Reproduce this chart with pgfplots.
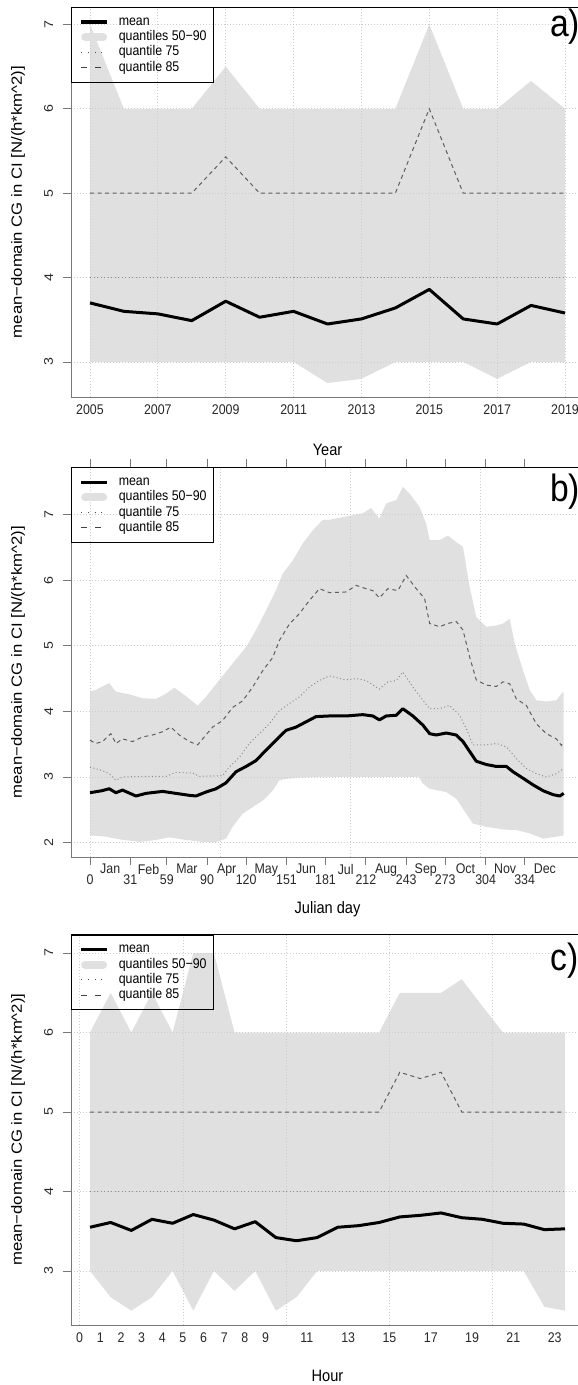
\documentclass[border=0pt]{standalone}
\usepackage{fontspec}
\setmainfont{Liberation Sans}[FakeStretch=0.885]
\newfontfamily\rotfont{Liberation Sans}[FakeStretch=1.13]
\usepackage{pgfplots}
\usepackage{pgfplotstable}
\pgfplotsset{compat=1.18}
\usepgfplotslibrary{fillbetween}

\definecolor{band}{RGB}{224,224,224}
\definecolor{gridc}{RGB}{205,205,205}
\definecolor{axisc}{RGB}{120,120,120}
\definecolor{qdash}{RGB}{95,95,95}
\definecolor{qdot}{RGB}{140,140,140}
\definecolor{txt}{RGB}{40,40,40}

% yearly statistics: year, mean, q50, q90, q75, q85
\pgfplotstableread{
yr   mean  q50  q90  q75 q85
2005 3.70 3.00 7.00 4 5.00
2006 3.60 3.00 6.00 4 5.00
2007 3.57 3.00 6.00 4 5.00
2008 3.49 3.00 6.00 4 5.00
2009 3.72 3.00 6.50 4 5.43
2010 3.53 3.00 6.00 4 5.00
2011 3.60 3.00 6.00 4 5.00
2012 3.45 2.75 6.00 4 5.00
2013 3.51 2.80 6.00 4 5.00
2014 3.64 3.00 6.00 4 5.00
2015 3.86 3.00 7.00 4 6.00
2016 3.51 3.00 6.00 4 5.00
2017 3.45 2.80 6.00 4 5.00
2018 3.67 3.00 6.33 4 5.00
2019 3.58 3.00 6.00 4 5.00
}\tabA

% hourly statistics
\pgfplotstableread{
hr   mean  q50  q90  q75 q85
0.5  3.55 3.00 6.00 4 5.00
1.5  3.61 2.67 6.50 4 5.00
2.5  3.51 2.50 6.00 4 5.00
3.5  3.65 2.67 6.50 4 5.00
4.5  3.60 3.00 6.00 4 5.00
5.5  3.71 2.50 7.00 4 5.00
6.5  3.64 3.00 7.00 4 5.00
7.5  3.53 2.75 6.00 4 5.00
8.5  3.62 3.00 6.00 4 5.00
9.5  3.42 2.50 6.00 4 5.00
10.5 3.38 2.67 6.00 4 5.00
11.5 3.42 3.00 6.00 4 5.00
12.5 3.55 3.00 6.00 4 5.00
13.5 3.57 3.00 6.00 4 5.00
14.5 3.61 3.00 6.00 4 5.00
15.5 3.68 3.00 6.50 4 5.50
16.5 3.70 3.00 6.50 4 5.42
17.5 3.73 3.00 6.50 4 5.50
18.5 3.67 3.00 6.67 4 5.00
19.5 3.65 3.00 6.33 4 5.00
20.5 3.60 3.00 6.00 4 5.00
21.5 3.59 3.00 6.00 4 5.00
22.5 3.52 2.55 6.00 4 5.00
23.5 3.53 2.50 6.00 4 5.00
}\tabC

% day-of-year statistics
\pgfplotstableread{
d v
0 4.30
4.5 4.33
14.8 4.43
19.9 4.30
30 4.26
40.4 4.20
50.7 4.19
58.4 4.27
64.8 4.36
71.2 4.27
77.6 4.17
82.7 4.09
89.1 4.22
99.4 4.48
109.6 4.73
119.9 4.98
127.6 5.24
135.3 5.54
143 5.85
148.1 6.10
155.8 6.30
163.5 6.56
171.2 6.76
178.9 6.92
184 6.92
196.8 6.97
209.6 7.02
216 7.10
222.4 6.94
227.6 7.17
235.3 7.22
240.4 7.42
245.5 7.32
253.2 7.12
258.3 6.86
261 6.61
268.6 6.61
275 6.68
281.4 6.58
286.6 6.51
291.7 5.90
296.8 5.44
304.5 5.29
312.3 5.31
317.4 5.34
322.5 5.41
326.4 5.03
332.8 4.62
338 4.32
343 4.17
350.7 4.15
358.4 4.17
362.3 4.27
364 4.30
}\bNinety

\pgfplotstableread{
d v
0 2.11
12.2 2.09
22.5 2.05
37.9 2.01
50.7 2.04
61 2.08
73.8 2.04
86.6 2.01
96.8 2.01
104.5 2.06
109.6 2.24
117.3 2.44
125 2.54
132.7 2.64
140.4 2.79
145.5 2.95
150.6 2.97
160.9 2.99
184 3.00
253 3.00
255.6 2.90
261 2.82
273.8 2.77
281.4 2.67
289.1 2.44
294.2 2.29
304.5 2.24
317.4 2.20
327.6 2.19
338 2.14
348.2 2.06
358.4 2.09
364 2.11
}\bFifty

\pgfplotstableread{
d v
0 2.76
9 2.79
14.8 2.82
19.9 2.76
25 2.80
35.3 2.71
43 2.75
55.8 2.78
66 2.75
76.3 2.72
81.4 2.71
89.1 2.77
96.8 2.82
104.5 2.91
112.2 3.08
119.9 3.16
127.6 3.25
135.3 3.41
143 3.56
150.6 3.71
158.3 3.76
166 3.84
173.7 3.92
184 3.93
196.8 3.93
209.6 3.95
217.3 3.93
222.4 3.87
227.6 3.93
235.3 3.94
240.4 4.04
248.1 3.93
255.8 3.79
261 3.66
266.1 3.64
273.8 3.67
281.4 3.64
286.6 3.54
291.7 3.39
296.8 3.24
304.5 3.19
312.3 3.16
320 3.16
325 3.08
332.8 2.98
340.4 2.88
348.2 2.79
355.9 2.73
361 2.71
364 2.75
}\bMean

\pgfplotstableread{
d v
0 3.56
4.5 3.51
9.6 3.54
16 3.66
19.9 3.51
25 3.58
32.7 3.54
40.4 3.61
48.1 3.64
55.8 3.69
62.2 3.76
68.6 3.64
76.3 3.54
82.7 3.49
89.1 3.64
94.2 3.76
101.9 3.86
109.6 4.06
117.3 4.16
125 4.37
132.7 4.62
140.4 4.82
145.5 5.08
153.2 5.33
160.9 5.49
168.6 5.69
176.3 5.87
184 5.81
196.8 5.82
204.5 5.92
212.1 5.87
217.3 5.84
222.4 5.73
228.9 5.87
236.6 5.84
243 6.07
250.7 5.87
257.1 5.72
261 5.34
268.6 5.29
275 5.34
281.4 5.37
286.6 5.24
291.7 4.83
296.8 4.48
304.5 4.40
312.3 4.38
317.4 4.45
322.5 4.42
327.6 4.19
335.3 4.09
343 3.81
350.7 3.66
358.4 3.58
362.3 3.48
364 3.54
}\bEightyFive

\pgfplotstableread{
d v
0 3.15
9 3.10
14.8 3.05
19.9 2.95
25 3.00
43 3.01
58.4 3.01
66 3.07
78.9 3.06
84 3.01
101.9 3.02
107 3.15
114.8 3.30
122.4 3.51
130.1 3.66
137.8 3.81
145.5 4.01
153.2 4.12
160.9 4.22
168.6 4.37
176.3 4.47
184 4.54
196.8 4.48
204.5 4.50
212.1 4.47
222.4 4.34
228.9 4.45
235.3 4.47
240.4 4.60
248.1 4.37
255.8 4.17
261 4.04
268.6 4.04
276.3 4.09
284 3.94
289.1 3.74
294.2 3.49
304.5 3.49
312.3 3.51
320 3.46
327.6 3.28
335.3 3.13
343 3.05
350.7 3.00
358.4 3.05
364 3.13
}\bSeventyFive

\tikzset{
  gridline/.style={gridc, line width=0.8pt, dash pattern=on 1pt off 2pt},
}

\pgfplotsset{
  panel/.style={
    scale only axis, width=513pt,
    clip=false,
    axis line style={draw=none},
    tick align=outside,
    major tick length=8pt,
    ytick style={draw=axisc, line width=0.8pt},
    xtick style={draw=none},
    yticklabel style={rotate=90, anchor=south, inner sep=0pt,
      font=\rotfont\fontsize{12.6}{12.6}\selectfont, text=txt},
    yticklabel shift=9.7pt,
    xticklabel style={anchor=north, inner sep=0pt,
      font=\fontsize{14}{14}\selectfont, text=txt},
    /pgf/number format/assume math mode=true,
    /pgf/number format/1000 sep={},
    xlabel style={anchor=center, font=\fontsize{16.5}{16.5}\selectfont, text=black},
    ylabel style={at={(axis description cs:-0.1033,0.5)}, anchor=center,
      font=\rotfont\fontsize{14.8}{14.8}\selectfont, text=black},
    ylabel={mean−domain CG in CI [N/(h*km\textasciicircum 2)]},
    legend style={at={(0,1)}, anchor=north west,
      draw=black, line width=0.9pt, fill=none,
      inner xsep=6.7pt, inner ysep=8pt, row sep=2.2pt,
      font=\fontsize{14}{14}\selectfont,
      nodes={inner xsep=0pt, inner ysep=0pt, text height=10pt, text depth=3pt},
      /tikz/every odd column/.append style={column sep=10pt}},
    legend cell align=left,
    legend image code/.code={\path[draw=none, fill=none] (0pt,0pt) -- (29pt,0pt);
      \draw[##1] (3pt,0pt) -- (29pt,0pt);},
  },
}

\newcommand{\legendentries}{%
  \addlegendimage{black, line width=3.2pt}
  \addlegendimage{legend image code/.code={\path[draw=none, fill=none] (0pt,0pt) -- (29pt,0pt);
      \draw[band, line width=8pt, line cap=round, solid] (7pt,0pt) -- (25pt,0pt);}}
  \addlegendimage{black!70, line width=1pt, dash pattern=on 1.2pt off 5.5pt}
  \addlegendimage{black!75, line width=1pt, dash pattern=on 6pt off 7.5pt}
  \legend{mean, quantiles 50−90, quantile 75, quantile 85}
}

\newcommand{\frameaxis}{%
  \draw[axisc, line width=1pt] (rel axis cs:0,1) -- (rel axis cs:0,0) -- (rel axis cs:1,0);
  \draw[black, line width=1pt] (rel axis cs:0,1) -- (rel axis cs:1,1);
}

\begin{document}
\begin{tikzpicture}

% ---------- a) by year ----------
\begin{axis}[panel, at={(71pt,-397pt)}, anchor=south west, height=390pt,
  xmin=2004.44, xmax=2019.56, ymin=2.585, ymax=7.206,
  xtick={2005,2007,2009,2011,2013,2015,2017,2019}, ytick={3,4,5,6,7},
  xlabel={Year}, xlabel style={at={(axis description cs:0.5,-0.1359)}}]
  \addplot[name path=upA, draw=none, forget plot] table[x=yr, y=q90] {\tabA};
  \addplot[name path=loA, draw=none, forget plot] table[x=yr, y=q50] {\tabA};
  \addplot[fill=band, draw=none, forget plot] fill between[of=upA and loA];
  \pgfplotsinvokeforeach{2005,2007,2009,2011,2013,2015,2017,2019}{
    \draw[gridline] (axis cs:#1,2.585) -- (axis cs:#1,7.206);}
  \pgfplotsinvokeforeach{3,4,5,6,7}{
    \draw[gridline] (axis cs:2004.44,#1) -- (axis cs:2019.56,#1);}
  \addplot[qdot, line width=1pt, dash pattern=on 1pt off 2.5pt, forget plot] table[x=yr, y=q75] {\tabA};
  \addplot[qdash, line width=1pt, dash pattern=on 4pt off 3.5pt, forget plot] table[x=yr, y=q85] {\tabA};
  \addplot[black, line width=3pt, line join=round, forget plot] table[x=yr, y=mean] {\tabA};
  \frameaxis
  \node[anchor=base west, inner sep=0pt, font=\fontsize{38}{38}\selectfont] at (rel axis cs:0.9337,0.9256) {a)};
  \legendentries
\end{axis}

% ---------- b) by Julian day ----------
\begin{axis}[panel, at={(71pt,-857pt)}, anchor=south west, height=389.7pt,
  xmin=-14.6, xmax=379.6, ymin=1.78, ymax=7.72,
  xtick={0,31,59,90,120,151,181,212,243,273,304,334},
  xtick style={draw=axisc, line width=0.8pt},
  xticklabel shift=9.3pt,
  extra x ticks={15.5,45,74.5,105,135.5,166,196.5,227.5,258,288.5,319,349.5},
  extra x tick labels={Jan,Feb,Mar,Apr,May,Jun,Jul,Aug,Sep,Oct,Nov,Dec},
  extra x tick style={xtick style={draw=none}, xticklabel shift=-1pt},
  ytick={2,3,4,5,6,7},
  xlabel={Julian day}, xlabel style={at={(axis description cs:0.5,-0.1334)}}]
  \addplot[name path=upB, draw=none, forget plot] table[x=d, y=v] {\bNinety};
  \addplot[name path=loB, draw=none, forget plot] table[x=d, y=v] {\bFifty};
  \addplot[fill=band, draw=none, forget plot] fill between[of=upB and loB];
  \pgfplotsinvokeforeach{0,100,200,300}{
    \draw[gridline] (axis cs:#1,1.78) -- (axis cs:#1,7.72);}
  \pgfplotsinvokeforeach{2,3,4,5,6,7}{
    \draw[gridline] (axis cs:-14.6,#1) -- (axis cs:379.6,#1);}
  \addplot[qdot, line width=1pt, dash pattern=on 1pt off 2.5pt, forget plot] table[x=d, y=v] {\bSeventyFive};
  \addplot[qdash, line width=1pt, dash pattern=on 4pt off 3.5pt, forget plot] table[x=d, y=v] {\bEightyFive};
  \addplot[black, line width=3pt, line join=round, forget plot] table[x=d, y=v] {\bMean};
  \frameaxis
  \node[anchor=base west, inner sep=0pt, font=\fontsize{38}{38}\selectfont] at (rel axis cs:0.9337,0.912) {b)};
  \legendentries
\end{axis}

% ---------- c) by hour ----------
\begin{axis}[panel, at={(71pt,-1325pt)}, anchor=south west, height=390.5pt,
  xmin=-0.42, xmax=24.42, ymin=2.32, ymax=7.233,
  xtick={0,1,2,3,4,5,6,7,8,9,11,13,15,17,19,21,23}, ytick={3,4,5,6,7},
  xlabel={Hour}, xlabel style={at={(axis description cs:0.5,-0.1306)}}]
  \addplot[name path=upC, draw=none, forget plot] table[x=hr, y=q90] {\tabC};
  \addplot[name path=loC, draw=none, forget plot] table[x=hr, y=q50] {\tabC};
  \addplot[fill=band, draw=none, forget plot] fill between[of=upC and loC];
  \pgfplotsinvokeforeach{0,5,10,15,20}{
    \draw[gridline] (axis cs:#1,2.32) -- (axis cs:#1,7.233);}
  \pgfplotsinvokeforeach{3,4,5,6,7}{
    \draw[gridline] (axis cs:-0.42,#1) -- (axis cs:24.42,#1);}
  \addplot[qdot, line width=1pt, dash pattern=on 1pt off 2.5pt, forget plot] table[x=hr, y=q75] {\tabC};
  \addplot[qdash, line width=1pt, dash pattern=on 4pt off 3.5pt, forget plot] table[x=hr, y=q85] {\tabC};
  \addplot[black, line width=3pt, line join=round, forget plot] table[x=hr, y=mean] {\tabC};
  \frameaxis
  \node[anchor=base west, inner sep=0pt, font=\fontsize{38}{38}\selectfont] at (rel axis cs:0.9337,0.909) {c)};
  \legendentries
\end{axis}

\pgfresetboundingbox
\useasboundingbox (0pt,0pt) rectangle (578pt,-1385pt);
\end{tikzpicture}
\end{document}
